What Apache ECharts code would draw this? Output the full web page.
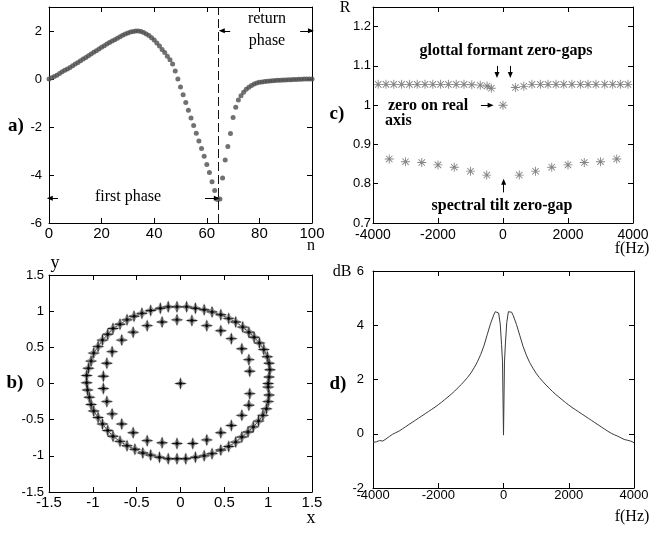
<!DOCTYPE html>
<html><head><meta charset="utf-8">
<script src="https://cdn.jsdelivr.net/npm/echarts@6/dist/echarts.min.js"></script>
<style>html,body{margin:0;padding:0;background:#fff}#c{width:652px;height:534px}</style>
</head><body><div id="c"></div>
<script>
// ---------- panel a) : glottal flow derivative ----------
const aN = [0,1,2,3,4,5,6,7,8,9,10,11,12,13,14,15,16,17,18,19,20,21,22,23,24,25,26,27,28,29,30,31,32,33,34,35,36,37,38,39,40,41,42,43,44,45,46,47,48,49,50,51,52,53,54,55,56,57,58,59,60,61,62,63,64,65,66,67,68,69,70,71,72,73,74,75,76,77,78,79,80,81,82,83,84,85,86,87,88,89,90,91,92,93,94,95,96,97,98,99,100];
const aY = [0.00,0.05,0.10,0.16,0.23,0.30,0.36,0.42,0.48,0.55,
  0.62,0.69,0.76,0.83,0.90,0.97,1.04,1.11,1.18,1.25,
  1.32,1.39,1.46,1.52,1.58,1.64,1.70,1.76,1.82,1.87,
  1.92,1.96,1.98,2.00,2.00,1.98,1.94,1.88,1.81,1.72,
  1.62,1.50,1.37,1.23,1.10,0.95,0.80,0.62,0.33,0.00,
  -0.33,-0.66,-0.98,-1.30,-1.62,-1.94,-2.26,-2.58,-2.90,-3.22,
  -3.56,-3.90,-4.28,-4.65,-5.02,-5.00,-4.13,-3.38,-2.81,-2.27,
  -1.60,-1.18,-0.88,-0.70,-0.55,-0.43,-0.34,-0.27,-0.21,-0.17,
  -0.14,-0.12,-0.10,-0.09,-0.08,-0.07,-0.06,-0.05,-0.05,-0.04,
  -0.04,-0.03,-0.03,-0.02,-0.02,-0.01,-0.01,0.00,0.00,0.00,
  0.00];
const aPhaseBoundary = 64.5;
const aXTicks = [0, 100, 20];
const aYTicks = [-6, 3, 2];

// ---------- panel c) : zero radius vs frequency ----------
const cUpperF = [-3840,-3600,-3360,-3120,-2880,-2640,-2400,-2160,-1920,-1680,-1440,-1200,-960,-700,-490,-360,
  380,640,890,1150,1385,1630,1870,2120,2380,2615,2860,3130,3375,3610,3845];
const cUpperR = [1.053,1.053,1.053,1.053,1.053,1.053,1.053,1.053,1.053,1.053,1.053,1.053,1.052,1.051,1.049,1.043,
  1.045,1.048,1.053,1.053,1.053,1.053,1.053,1.053,1.053,1.053,1.053,1.053,1.053,1.053,1.053];
const cRealF = [0];
const cRealR = [1.0];
const cLowerF = [-3500,-3000,-2500,-2000,-1500,-1000,-500,500,1000,1500,2000,2500,3000,3500];
const cLowerR = [0.863,0.856,0.854,0.848,0.842,0.832,0.822,0.822,0.832,0.842,0.848,0.854,0.856,0.863];
const cXTicks = [-4000, 4000, 2000];
const cYTicks = [0.7, 1.25, 0.1];

// ---------- panel b) : zeros in the z-plane ----------
const bOuterX = [1.00,1.01,1.02,1.01,0.99,0.95,0.90,0.84,0.78,0.71,0.63,0.55,0.46,0.36,0.27,0.17,0.07,-0.04,-0.14,-0.23,-0.34,-0.44,-0.53,-0.61,-0.69,-0.77,-0.83,-0.89,-0.94,-0.99,-1.02,-1.05,-1.07,-1.07,
  -1.06,-1.04,-1.02,-0.99,-0.94,-0.89,-0.83,-0.77,-0.69,-0.61,-0.52,-0.43,-0.34,-0.24,-0.14,-0.04,0.06,0.17,0.27,0.36,0.46,0.55,0.63,0.70,0.77,0.83,0.89,0.94,0.98,1.00,1.01,1.00];
const bOuterY = [0.00,0.09,0.19,0.28,0.37,0.47,0.56,0.64,0.71,0.78,0.85,0.90,0.95,0.99,1.02,1.04,1.06,1.06,1.06,1.04,1.01,0.97,0.93,0.88,0.82,0.76,0.68,0.60,0.51,0.42,0.31,0.21,0.11,0.01,
  -0.09,-0.19,-0.29,-0.38,-0.47,-0.56,-0.65,-0.73,-0.80,-0.86,-0.91,-0.96,-0.99,-1.02,-1.04,-1.04,-1.04,-1.02,-1.00,-0.97,-0.92,-0.87,-0.81,-0.74,-0.67,-0.60,-0.52,-0.44,-0.35,-0.25,-0.16,-0.05];
const bInnerX = [0.79,0.78,0.70,0.58,0.46,0.30,0.13,-0.04,-0.21,-0.38,-0.54,-0.67,-0.78,-0.84,-0.88,
  -0.88,-0.84,-0.78,-0.67,-0.54,-0.38,-0.21,-0.04,0.14,0.30,0.46,0.58,0.70,0.78,0.79];
const bInnerY = [0.17,0.33,0.48,0.62,0.73,0.80,0.87,0.88,0.85,0.80,0.71,0.60,0.44,0.28,0.10,
  -0.07,-0.25,-0.42,-0.56,-0.68,-0.79,-0.82,-0.83,-0.83,-0.78,-0.68,-0.58,-0.44,-0.30,-0.14];
const bCentreX = [0];
const bCentreY = [0];
const bTicks = [-1.5, 1.5, 0.5];

// ---------- panel d) : magnitude spectrum ----------
const dF = [-4000,-3900,-3800,-3700,-3600,-3500,-3400,-3300,-3200,-3100,-3000,-2900,-2800,-2700,-2600,-2500,-2400,-2300,-2200,-2100,-2000,-1900,-1800,-1700,-1600,-1500,-1400,-1300,-1200,-1100,-1000,-900,-800,-700,-600,-500,-400,-300,-250,-200,-150,-100,-60,-30,0,
  30,60,100,150,200,250,300,400,500,600,700,800,900,1000,1100,1200,1300,1400,1500,1600,1700,1800,1900,2000,2100,2200,2300,2400,2500,2600,2700,2800,2900,3000,3100,3200,3300,3400,3500,3600,3700,3800,3900,4000];
const dDB = [-0.32,-0.30,-0.25,-0.27,-0.19,-0.10,-0.02,0.04,0.10,0.18,0.26,0.34,0.42,0.50,0.58,0.66,0.74,0.82,0.90,0.98,1.07,1.16,1.26,1.36,1.46,1.57,1.69,1.81,1.94,2.08,2.24,2.43,2.65,2.92,3.24,3.65,4.05,4.38,4.50,4.55,4.45,4.05,3.30,2.65,-0.05,
  2.65,3.35,4.10,4.50,4.55,4.48,4.35,4.02,3.62,3.22,2.90,2.63,2.42,2.23,2.07,1.93,1.80,1.68,1.56,1.45,1.35,1.25,1.15,1.06,0.97,0.89,0.81,0.73,0.65,0.57,0.49,0.41,0.33,0.25,0.17,0.09,0.02,-0.04,-0.09,-0.15,-0.21,-0.24,-0.27,-0.33];
const dXTicks = [-4000, 4000, 2000];
const dYTicks = [-2, 6, 2];

// ---------- helpers ----------
const zip = (xs, ys) => xs.map((x, i) => [x, ys[i]]);
const SANS = 'Liberation Sans, Arial, sans-serif';
const SERIF = 'Liberation Serif, Times New Roman, serif';
const ASTER = 'path://M9,0L11,0L11,20L9,20Z M0,9L20,9L20,11L0,11Z M2.2,3.6L3.6,2.2L17.8,16.4L16.4,17.8Z M16.4,2.2L17.8,3.6L3.6,17.8L2.2,16.4Z';
const SPARK = 'path://M5,0L6.6,3.4L10,5L6.6,6.6L5,10L3.4,6.6L0,5L3.4,3.4Z';
const PLUS = 'path://M4.55,0L5.45,0L5.45,4.55L10,4.55L10,5.45L5.45,5.45L5.45,10L4.55,10L4.55,5.45L0,5.45L0,4.55L4.55,4.55Z';
const plainNum = v => String(Math.round(v * 1000) / 1000);

function xAx(grid, t, fs, margin) {
  const base = {
    type: 'value', gridIndex: grid, min: t[0], max: t[1], interval: t[2],
    axisLine: { show: true, onZero: false, lineStyle: { color: '#000', width: 1 } },
    axisTick: { show: true, inside: true, length: 5, lineStyle: { color: '#000' } },
    splitLine: { show: false }
  };
  return [
    Object.assign({}, base, { position: 'bottom',
      axisLabel: { show: true, color: '#000', fontFamily: SANS, fontSize: fs, margin: margin, formatter: plainNum } }),
    Object.assign({}, base, { position: 'top', axisLabel: { show: false } })
  ];
}
function yAx(grid, t, fs, margin) {
  const base = {
    type: 'value', gridIndex: grid, min: t[0], max: t[1], interval: t[2],
    axisLine: { show: true, onZero: false, lineStyle: { color: '#000', width: 1 } },
    axisTick: { show: true, inside: true, length: 5, lineStyle: { color: '#000' } },
    splitLine: { show: false }
  };
  return [
    Object.assign({}, base, { position: 'left',
      axisLabel: { show: true, color: '#000', fontFamily: SANS, fontSize: fs, margin: margin, formatter: plainNum,
        showMaxLabel: Math.abs(((t[1] - t[0]) / t[2]) - Math.round((t[1] - t[0]) / t[2])) < 1e-6 } }),
    Object.assign({}, base, { position: 'right', axisLabel: { show: false } })
  ];
}
function txt(text, x, y, size, opts) {
  opts = opts || {};
  return {
    type: 'text', silent: true, z: 100,
    style: {
      text: text, x: x, y: y,
      fontFamily: opts.family || SERIF, fontSize: size, fontWeight: opts.weight || 'normal',
      fill: '#000',
      align: opts.align || 'center', verticalAlign: 'middle',
      textAlign: opts.align || 'center', textVerticalAlign: 'middle'
    }
  };
}
function arrowLine(p0, p1) {
  return [
    { coord: p0, symbol: 'none' },
    { coord: p1, symbol: 'triangle', symbolSize: [5, 6] }
  ];
}

const grids = [
  { left: 49, top: 7, width: 263, height: 216 },   // a
  { left: 373, top: 7, width: 260, height: 216 },  // c
  { left: 49, top: 275, width: 263, height: 217 }, // b
  { left: 373, top: 271, width: 261, height: 217 } // d
].map(g => Object.assign(g, { containLabel: false, outerBoundsMode: 'none' }));

const xAxes = [].concat(
  xAx(0, aXTicks, 15, 3),
  xAx(1, cXTicks, 14, 5),
  xAx(2, bTicks, 15, 3),
  xAx(3, dXTicks, 13, 1)
);
const yAxes = [].concat(
  yAx(0, aYTicks, 13, 7),
  yAx(1, cYTicks, 13, 2),
  yAx(2, bTicks, 13, 5),
  yAx(3, dYTicks, 13, 9)
);

const bAll = zip(bOuterX, bOuterY).concat(zip(bInnerX, bInnerY), zip(bCentreX, bCentreY));
const bRing = zip(bOuterX, bOuterY); bRing.push(bRing[0]);

const series = [
  // a)
  { type: 'scatter', xAxisIndex: 0, yAxisIndex: 0, data: zip(aN, aY), symbol: 'circle', symbolSize: 5,
    itemStyle: { color: '#4e4e4e' }, silent: true,
    markLine: { silent: true, animation: false, label: { show: false }, symbol: ['none', 'none'],
      lineStyle: { color: '#000', width: 1, type: 'solid' },
      data: [
        { xAxis: aPhaseBoundary, symbol: 'none', lineStyle: { color: '#111', width: 1, type: [9, 4] } },
        arrowLine([3.4, -4.97], [0.3, -4.97]),
        arrowLine([59.3, -4.97], [63.8, -4.97]),
        arrowLine([68.9, 2.01], [65.7, 2.01]),
        arrowLine([95.5, 2.01], [99.6, 2.01])
      ] } },
  // c)
  { type: 'scatter', xAxisIndex: 2, yAxisIndex: 2, data: zip(cUpperF, cUpperR), symbol: ASTER, symbolSize: 9,
    itemStyle: { color: '#656565' }, silent: true },
  { type: 'scatter', xAxisIndex: 2, yAxisIndex: 2, data: zip(cRealF, cRealR), symbol: ASTER, symbolSize: 9,
    itemStyle: { color: '#656565' }, silent: true },
  { type: 'scatter', xAxisIndex: 2, yAxisIndex: 2, data: zip(cLowerF, cLowerR), symbol: ASTER, symbolSize: 9,
    itemStyle: { color: '#656565' }, silent: true,
    markLine: { silent: true, animation: false, label: { show: false }, symbol: ['none', 'none'],
      lineStyle: { color: '#000', width: 1, type: 'solid' },
      data: [
        arrowLine([-185, 1.100], [-185, 1.077]),
        arrowLine([225, 1.100], [225, 1.077]),
        arrowLine([-680, 1.0], [-380, 1.0]),
        arrowLine([20, 0.778], [20, 0.805])
      ] } },
  // b)
  { type: 'line', xAxisIndex: 4, yAxisIndex: 4, data: bRing, symbol: 'none', smooth: false,
    lineStyle: { color: '#111', width: 0.8 }, silent: true, z: 1 },
  { type: 'scatter', xAxisIndex: 4, yAxisIndex: 4, data: bAll, symbol: SPARK, symbolSize: 13,
    itemStyle: { color: '#808080' }, silent: true, z: 2 },
  { type: 'scatter', xAxisIndex: 4, yAxisIndex: 4, data: bAll, symbol: PLUS, symbolSize: 10,
    itemStyle: { color: '#000' }, silent: true, z: 3 },
  { type: 'scatter', xAxisIndex: 4, yAxisIndex: 4, data: bAll, symbol: 'circle', symbolSize: 3.5,
    itemStyle: { color: '#000' }, silent: true, z: 4 },
  // d)
  { type: 'line', xAxisIndex: 6, yAxisIndex: 6, data: zip(dF, dDB), symbol: 'none', smooth: false,
    lineStyle: { color: '#3a3a3a', width: 1 }, silent: true }
];

const graphics = [
  txt('a)', 16, 126, 19, { weight: 'bold' }),
  txt('b)', 15, 383, 19, { weight: 'bold' }),
  txt('c)', 337, 114, 19, { weight: 'bold' }),
  txt('d)', 338, 384, 19, { weight: 'bold' }),
  txt('n', 311, 246, 16),
  txt('y', 55, 263, 18),
  txt('x', 311, 518, 18),
  txt('R', 345, 8, 16),
  txt('f(Hz)', 632, 249, 16),
  txt('dB', 342, 272, 16),
  txt('f(Hz)', 632, 517, 16),
  txt('first phase', 128, 197, 16),
  txt('return', 267, 19, 16),
  txt('phase', 267, 41, 16),
  txt('glottal formant zero-gaps', 506, 51, 16, { weight: 'bold' }),
  txt('zero on real', 388, 106, 16, { weight: 'bold', align: 'left' }),
  txt('axis', 385, 121, 16, { weight: 'bold', align: 'left' }),
  txt('spectral tilt zero-gap', 502, 206, 16, { weight: 'bold' })
];

const chart = echarts.init(document.getElementById('c'), null, { renderer: 'canvas' });
chart.setOption({
  animation: false,
  backgroundColor: '#fff',
  grid: grids,
  xAxis: xAxes,
  yAxis: yAxes,
  series: series,
  graphic: { elements: graphics }
});
</script></body></html>
